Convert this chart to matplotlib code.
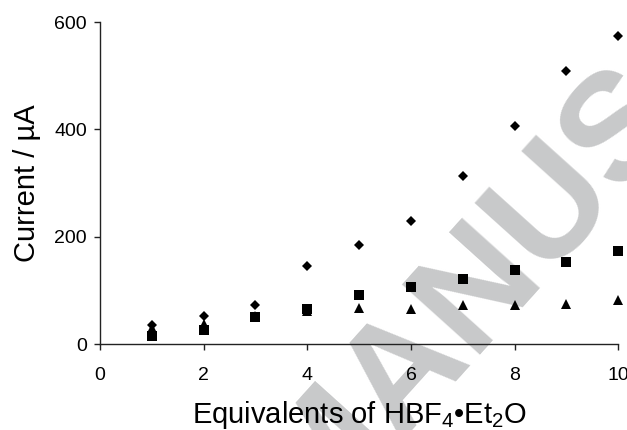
import matplotlib
matplotlib.use("Agg")
import matplotlib.pyplot as plt

# -------------------------------
# data: current vs. acid equivalents
# -------------------------------
equivalents = [1, 2, 3, 4, 5, 6, 7, 8, 9, 10]
current_diamond = [36, 52, 73, 146, 185, 230, 314, 406, 508, 574]
current_square = [16, 27, 50, 65, 91, 107, 121, 138, 153, 174]
current_triangle = [30, 38, 53, 62, 67, 65, 73, 74, 75, 82]

x_ticks = [0, 2, 4, 6, 8, 10]
y_ticks = [0, 200, 400, 600]

plt.rcParams["font.family"] = ["Liberation Sans", "DejaVu Sans"]
plt.rcParams["mathtext.fontset"] = "custom"
plt.rcParams["mathtext.rm"] = "Liberation Sans"
plt.rcParams["mathtext.it"] = "Liberation Sans:italic"
plt.rcParams["mathtext.bf"] = "Liberation Sans:bold"

fig = plt.figure(figsize=(6.27, 4.30), dpi=100)
ax = fig.add_axes([0.1595, 0.1993, 0.8266, 0.7495])
ax.set_zorder(1)
ax.set_facecolor("none")

# grey diagonal watermark behind the data
fig.text(0.750, 0.312, "MANUS", fontsize=110, fontweight="bold", color="#c8c9ca",
         rotation=48, ha="center", va="center", zorder=-5)

ax.plot(equivalents, current_diamond, linestyle="none", marker="D", ms=5.0,
        color="black", mew=0, clip_on=False)
ax.plot(equivalents, current_square, linestyle="none", marker="s", ms=6.6,
        color="black", mew=0, clip_on=False)
ax.plot(equivalents, current_triangle, linestyle="none", marker="^", ms=6.8,
        color="black", mew=0, clip_on=False)

ax.set_xlim(0, 10)
ax.set_ylim(0, 600)
ax.set_xticks(x_ticks)
ax.set_yticks(y_ticks)

for side in ["top", "right"]:
    ax.spines[side].set_visible(False)
for side in ["left", "bottom"]:
    ax.spines[side].set_linewidth(1.0)
    ax.spines[side].set_color("#222222")

ax.tick_params(direction="out", length=4.0, width=1.0, colors="#222222",
               labelsize=14, labelcolor="black")
ax.tick_params(axis="x", pad=12)
ax.tick_params(axis="y", pad=5.5)

ax.set_xlabel("Equivalents of HBF$_4$\u2022Et$_2$O", fontsize=21, va="baseline")
ax.set_ylabel("Current / \u00b5A", fontsize=21, va="baseline")
ax.xaxis.set_label_coords(0.5, -0.244)
ax.yaxis.set_label_coords(-0.1254, 0.5)

fig.savefig("out.png", dpi=100)
